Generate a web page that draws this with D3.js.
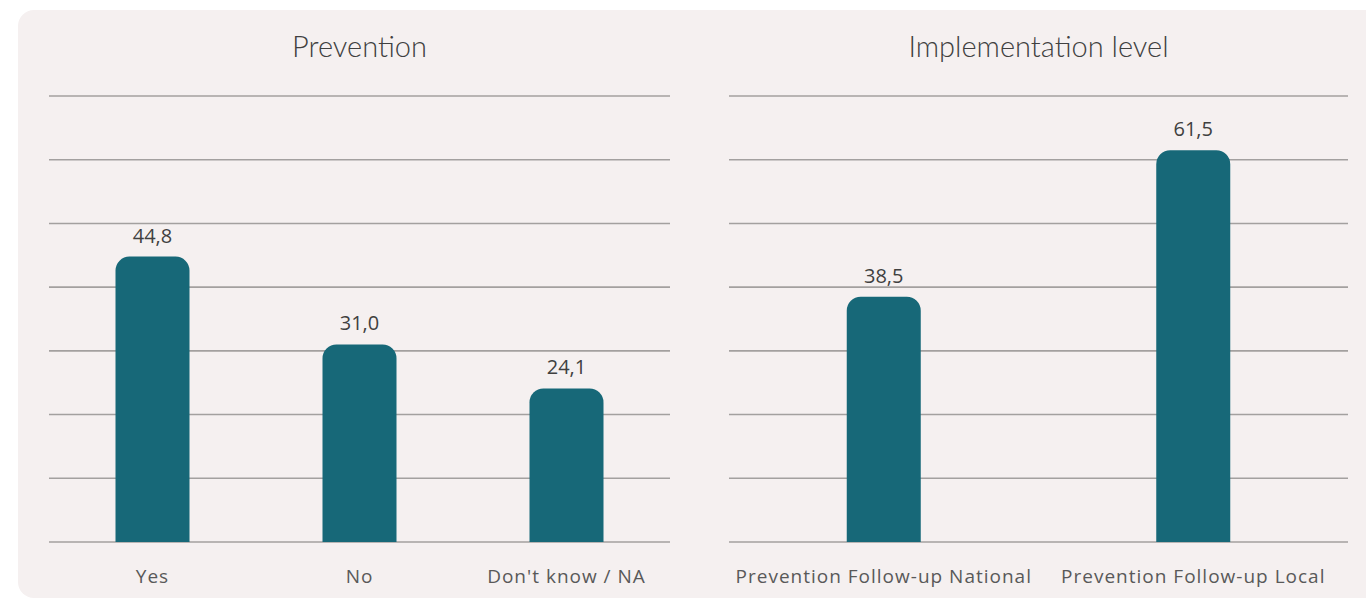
<!DOCTYPE html>
<html>
<head>
<meta charset="utf-8">
<script src="https://cdn.jsdelivr.net/npm/d3@7"></script>
<style>
  html, body { margin: 0; padding: 0; background: #ffffff; }
  svg { display: block; }
</style>
</head>
<body>
<svg id="chart" width="1366" height="600"></svg>
<script>
// Survey results, in percent
const preventionCategories = ["Yes", "No", "Don't know / NA"];
const preventionValues = [44.8, 31.0, 24.1];

const levelCategories = ["Prevention Follow-up National", "Prevention Follow-up Local"];
const levelValues = [38.5, 61.5];

const gridTicks = [0, 10, 20, 30, 40, 50, 60, 70];

const panelTitles = ["Prevention", "Implementation level"];

const svg = d3.select("#chart");

// shared card background
svg.append("rect")
  .attr("x", 18).attr("y", 10)
  .attr("width", 1380).attr("height", 588)
  .attr("rx", 16).attr("ry", 16)
  .attr("fill", "#f5f0f0");

const fmt = v => d3.format(".1f")(v).replace(".", ",");
const barWidth = 74;

// bar with rounded top corners only
function topRoundedBar(x, y, w, h, r) {
  r = Math.min(r, w / 2, h);
  return `M${x},${y + h}V${y + r}A${r},${r} 0 0 1 ${x + r},${y}H${x + w - r}A${r},${r} 0 0 1 ${x + w},${y + r}V${y + h}Z`;
}

function drawPanel(cfg) {
  const { title, categories, values, x0, x1 } = cfg;
  const top = 96, bottom = 542;
  const g = svg.append("g");

  const x = d3.scaleBand().domain(categories).range([x0, x1]).padding(0);
  const y = d3.scaleLinear().domain([0, 70]).range([bottom, top]);
  const cx = c => x(c) + x.bandwidth() / 2;

  // horizontal gridlines
  g.append("g").selectAll("line").data(gridTicks).join("line")
    .attr("x1", x0).attr("x2", x1)
    .attr("y1", d => y(d)).attr("y2", d => y(d))
    .attr("stroke", "#a3a09f")
    .attr("stroke-width", 1.6);

  // bars
  g.append("g").selectAll("path").data(values).join("path")
    .attr("d", (d, i) => topRoundedBar(cx(categories[i]) - barWidth / 2, y(d), barWidth, y(0) - y(d), 14))
    .attr("fill", "#176878");

  // value labels
  g.append("g").selectAll("text").data(values).join("text")
    .attr("x", (d, i) => cx(categories[i]))
    .attr("y", d => y(d) - 14)
    .attr("text-anchor", "middle")
    .attr("font-family", "'Open Sans', sans-serif")
    .attr("font-size", 20)
    .attr("fill", "#404040")
    .text(fmt);

  // category axis
  const axis = d3.axisBottom(x).tickSize(0).tickPadding(0);
  const ax = g.append("g").attr("transform", `translate(0,${bottom})`).call(axis);
  ax.select(".domain").remove();
  ax.selectAll("text")
    .attr("y", 41)
    .attr("dy", 0)
    .attr("font-family", "'Open Sans', sans-serif")
    .attr("font-size", 19)
    .attr("letter-spacing", "1px")
    .attr("fill", "#595959");

  // title
  g.append("text")
    .attr("x", (x0 + x1) / 2)
    .attr("y", 57)
    .attr("text-anchor", "middle")
    .attr("font-family", "Lato, sans-serif")
    .attr("font-weight", 300)
    .attr("font-size", 29)
    .attr("fill", "#404040")
    .text(title);
}

drawPanel({ title: panelTitles[0], categories: preventionCategories, values: preventionValues, x0: 49, x1: 670 });
drawPanel({ title: panelTitles[1], categories: levelCategories, values: levelValues, x0: 729, x1: 1348 });
</script>
</body>
</html>
